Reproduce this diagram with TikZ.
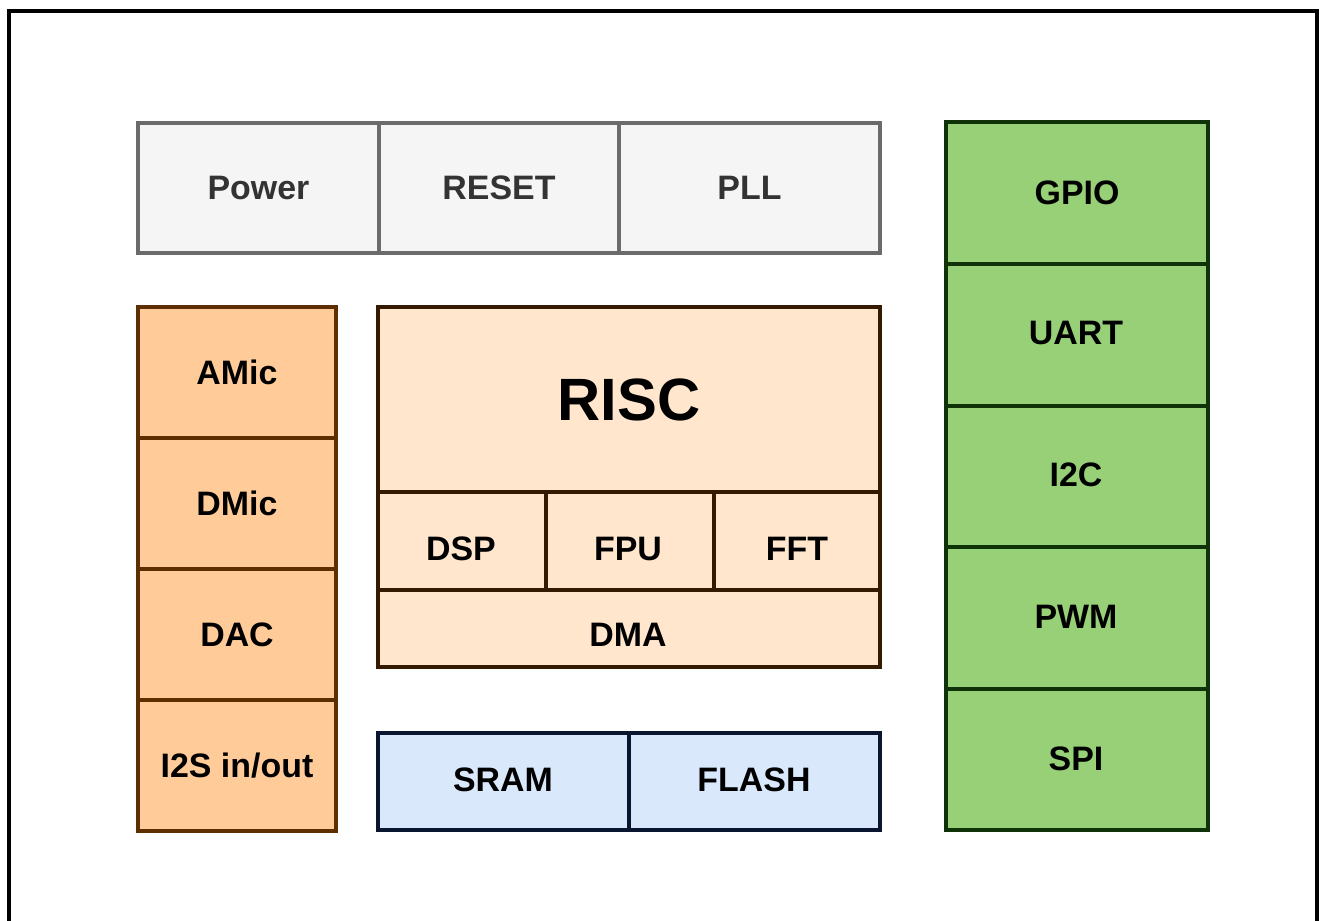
\documentclass[tikz,border=0pt]{standalone}
\usepackage{fontspec}
\setmainfont{Liberation Sans}
\begin{document}
\begin{tikzpicture}[x=0.02cm,y=-0.02cm,
  cell/.style={draw,line width=2pt,rectangle,inner sep=0pt,font=\bfseries\fontsize{19.3}{22}\selectfont},
  txt/.style={inner sep=0pt,font=\bfseries\fontsize{19.3}{22}\selectfont},
  grayc/.style={cell,fill=gray!8,draw=black!58,text=black!80},
  orangec/.style={cell,fill={rgb,255:red,255;green,204;blue,153},draw={rgb,255:red,92;green,46;blue,0}},
  peachc/.style={cell,fill={rgb,255:red,255;green,230;blue,204},draw={rgb,255:red,51;green,26;blue,0}},
  bluec/.style={cell,fill={rgb,255:red,218;green,232;blue,252},draw={rgb,255:red,10;green,22;blue,48}},
  greenc/.style={cell,fill={rgb,255:red,151;green,208;blue,119},draw={rgb,255:red,15;green,50;blue,8}}
]
\useasboundingbox (0,0) rectangle (1325,920);
\fill[white] (0,0) rectangle (1325,920);
\coordinate (fa) at (9,940);
\coordinate (fb) at (9,11);
\coordinate (fc) at (1317,11);
\coordinate (fd) at (1317,940);
\draw[line width=2.3pt] (fa) -- (fb) -- (fc) -- (fd);

% top gray row
\node[grayc,minimum width=241*0.02cm,minimum height=130*0.02cm] (power) at (258.5,188) {Power};
\node[grayc,minimum width=240*0.02cm,minimum height=130*0.02cm] (reset) at (499,188) {RESET};
\node[grayc,minimum width=261*0.02cm,minimum height=130*0.02cm] (pll) at (749.5,188) {PLL};

% left orange column
\node[orangec,minimum width=198*0.02cm,minimum height=131*0.02cm] (amic) at (237,372.5) {AMic};
\node[orangec,minimum width=198*0.02cm,minimum height=131*0.02cm] (dmic) at (237,503.5) {DMic};
\node[orangec,minimum width=198*0.02cm,minimum height=131*0.02cm] (dac) at (237,634.5) {DAC};
\node[orangec,minimum width=198*0.02cm,minimum height=131*0.02cm] (i2s) at (237,765.5) {I2S in/out};

% center RISC block
\node[peachc,minimum width=502*0.02cm,minimum height=185*0.02cm,font=\bfseries\fontsize{34}{40}\selectfont] (risc) at (629,399.5) {RISC};
\node[peachc,minimum width=168*0.02cm,minimum height=98*0.02cm] (dsp) at (462,541) {};
\node[peachc,minimum width=168*0.02cm,minimum height=98*0.02cm] (fpu) at (630,541) {};
\node[peachc,minimum width=166*0.02cm,minimum height=98*0.02cm] (fft) at (797,541) {};
\node[peachc,minimum width=502*0.02cm,minimum height=77*0.02cm] (dma) at (629,628.5) {};
\node[txt] (tdsp) at (461,549) {DSP};
\node[txt] (tfpu) at (628,549) {FPU};
\node[txt] (tfft) at (797,549) {FFT};
\node[txt] (tdma) at (628,635) {DMA};

% memory
\node[bluec,minimum width=251*0.02cm,minimum height=97*0.02cm] (sram) at (503.5,781.5) {};
\node[bluec,minimum width=251*0.02cm,minimum height=97*0.02cm] (flash) at (754.5,781.5) {};
\node[txt] (tsram) at (503,780) {SRAM};
\node[txt] (tflash) at (754,780) {FLASH};

% right green column
\node[greenc,minimum width=262*0.02cm,minimum height=142*0.02cm] (gpio) at (1077,193) {GPIO};
\node[greenc,minimum width=262*0.02cm,minimum height=142*0.02cm] (uart) at (1077,335) {};
\node[greenc,minimum width=262*0.02cm,minimum height=141*0.02cm] (i2c) at (1077,476.5) {};
\node[greenc,minimum width=262*0.02cm,minimum height=142*0.02cm] (pwm) at (1077,618) {};
\node[greenc,minimum width=262*0.02cm,minimum height=141*0.02cm] (spi) at (1077,759.5) {};
\node[txt] (tuart) at (1076,333) {UART};
\node[txt] (ti2c) at (1076,475) {I2C};
\node[txt] (tpwm) at (1076,617) {PWM};
\node[txt] (tspi) at (1076,759) {SPI};
\end{tikzpicture}
\end{document}
